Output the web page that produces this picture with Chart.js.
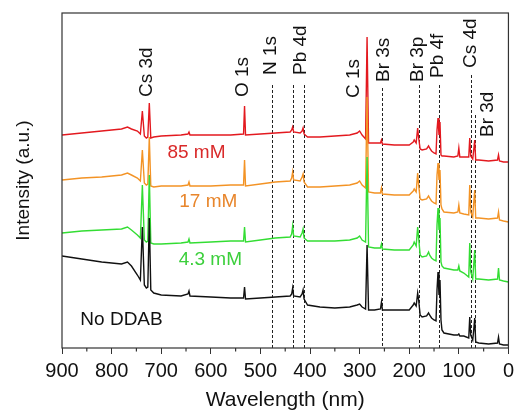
<!DOCTYPE html>
<html lang="en">
<head>
<meta charset="UTF-8">
<title>XPS survey spectra</title>
<script src="https://cdn.jsdelivr.net/npm/chart.js"></script>
<style>
  body { margin: 0; background: #fff; }
  .chart-container { width: 519px; height: 418px; position: relative; }
</style>
</head>
<body>
<div class="chart-container"><canvas id="chart"></canvas></div>
<script>
// shared x grid (900 -> 0)
const energy = [900, 860, 820, 780, 768, 760, 748, 742, 738, 734,
                730, 727, 724, 721, 715, 700, 660, 646, 644, 642,
                600, 560, 534, 532, 530, 500, 470, 440, 437, 435,
                433, 420, 416, 414, 412, 405, 380, 350, 320, 305,
                300, 295, 288, 285, 282, 270, 258, 256, 254, 230,
                200, 192, 190, 186, 183, 181, 178, 174, 165, 161,
                159, 155, 150, 146, 144, 142, 140, 138, 136, 134,
                130, 110, 102, 100, 98, 90, 80, 78, 76, 72,
                70, 68, 66, 60, 40, 22, 20, 18, 10, 0];

const noDDAB = [94, 91, 88, 86, 88, 84, 75, 70, 123, 65,
                62, 63, 132, 60, 57, 55, 54, 56, 59, 54,
                53, 52, 52, 63, 51, 52, 53, 54, 56, 62,
                54, 53, 56, 60, 51, 45, 43, 42, 43, 45,
                46, 43, 41, 105, 40, 40, 41, 48, 40, 40,
                40, 45, 47, 44, 57, 50, 35, 33, 34, 37,
                35, 32, 30, 29, 60, 78, 55, 70, 30, 20,
                17, 15, 15, 16, 14, 14, 12, 33, 15, 10,
                20, 32, 8, 7, 6, 7, 13, 6, 5, 5];

const mM4_3 = [117, 119, 120, 121, 123, 120, 115, 112, 165, 110,
               108, 109, 175, 107, 106, 106, 107, 108, 111, 107,
               108, 109, 109, 123, 108, 110, 112, 113, 116, 124,
               114, 113, 117, 121, 112, 109, 109, 109, 110, 112,
               114, 110, 108, 193, 103, 102, 102, 106, 101, 100,
               100, 105, 108, 104, 123, 112, 95, 93, 94, 98,
               95, 92, 90, 89, 125, 142, 120, 132, 88, 84,
               82, 80, 80, 84, 79, 77, 73, 107, 78, 71,
               85, 100, 71, 71, 70, 71, 82, 70, 69, 68];

const mM17 = [170, 172, 173, 175, 177, 175, 172, 169, 200, 167,
              165, 166, 213, 164, 163, 164, 164, 165, 168, 164,
              164, 165, 165, 190, 164, 166, 168, 169, 172, 178,
              170, 169, 173, 176, 168, 163, 163, 164, 165, 167,
              169, 165, 162, 253, 158, 157, 157, 162, 156, 155,
              155, 159, 161, 158, 177, 165, 151, 150, 151, 154,
              152, 149, 147, 146, 175, 187, 170, 180, 145, 141,
              138, 137, 138, 145, 137, 136, 135, 165, 138, 133,
              147, 160, 132, 132, 131, 132, 138, 130, 129, 128];

const mM85 = [215, 217, 219, 221, 223, 221, 219, 216, 239, 214,
              212, 213, 247, 212, 213, 214, 215, 216, 218, 215,
              215, 215, 216, 244, 215, 216, 217, 218, 220, 223,
              218, 217, 219, 222, 216, 213, 213, 214, 215, 217,
              219, 215, 211, 313, 207, 207, 207, 210, 206, 205,
              205, 208, 210, 207, 222, 212, 201, 200, 201, 204,
              202, 199, 197, 196, 220, 232, 215, 228, 195, 194,
              194, 193, 194, 202, 193, 193, 193, 212, 194, 191,
              200, 210, 190, 190, 189, 190, 195, 189, 188, 188];

const seriesNames = ['No DDAB', '4.3 mM', '17 mM', '85 mM'];
const seriesLabelX = [780, 601, 605, 629];
const seriesLabelY = [30, 90, 148, 197];

// dashed reference lines
const markerEnergy = [477, 435, 413, 255, 180, 140, 75, 67];
const markerTop = [265, 265, 265, 262, 265, 265, 275, 235];

// peak names (rotated text), x position and bottom of the text
const peakNames = ['Cs 3d', 'O 1s', 'N 1s', 'Pb 4d', 'C 1s', 'Br 3s', 'Br 3p', 'Pb 4f', 'Cs 4d', 'Br 3d'];
const peakLabelX = [730, 535, 479, 419, 311, 251, 182, 142, 76, 42];
const peakLabelBase = [253, 253, 275, 275, 252, 268, 268, 272, 282, 213];

const xTicks = [900, 800, 700, 600, 500, 400, 300, 200, 100, 0];

const colors = ['#111111', '#33dd33', '#f39325', '#e3191f'];
const textColors = ['#111111', '#3ccf3c', '#e8862c', '#d92a2a'];
const FONT = '"Liberation Sans", Arial, sans-serif';

const extras = {
    id: 'extras',
    beforeDatasetsDraw(chart) {
        const {ctx, chartArea, scales: {x, y}} = chart;
        ctx.save();
        ctx.strokeStyle = '#222';
        ctx.lineWidth = 1;
        ctx.setLineDash([3, 2]);
        markerEnergy.forEach((e, i) => {
            const px = Math.round(x.getPixelForValue(e)) + 0.5;
            ctx.beginPath();
            ctx.moveTo(px, y.getPixelForValue(markerTop[i]));
            ctx.lineTo(px, chartArea.bottom);
            ctx.stroke();
        });
        ctx.restore();
    },
    afterDatasetsDraw(chart) {
        const {ctx, chartArea, scales: {x, y}} = chart;
        ctx.save();
        // frame
        ctx.strokeStyle = '#333';
        ctx.lineWidth = 1.2;
        ctx.strokeRect(chartArea.left, chartArea.top, chartArea.right - chartArea.left, chartArea.bottom - chartArea.top);
        // minor ticks
        ctx.beginPath();
        for (let v = 50; v < 900; v += 100) {
            const px = x.getPixelForValue(v);
            ctx.moveTo(px, chartArea.bottom);
            ctx.lineTo(px, chartArea.bottom + 3.5);
        }
        ctx.stroke();
        // peak names
        ctx.fillStyle = '#111';
        ctx.font = '19px ' + FONT;
        ctx.textAlign = 'left';
        ctx.textBaseline = 'middle';
        peakNames.forEach((name, i) => {
            ctx.save();
            ctx.translate(x.getPixelForValue(peakLabelX[i]), y.getPixelForValue(peakLabelBase[i]));
            ctx.rotate(-Math.PI / 2);
            ctx.fillText(name, 0, 0);
            ctx.restore();
        });
        // series names
        ctx.textAlign = 'center';
        seriesNames.forEach((name, i) => {
            ctx.fillStyle = textColors[i];
            ctx.fillText(name, x.getPixelForValue(seriesLabelX[i]), y.getPixelForValue(seriesLabelY[i]));
        });
        ctx.restore();
    }
};

function toPoints(values) {
    return values.map((v, i) => ({ x: energy[i], y: v }));
}

new Chart(document.getElementById('chart'), {
    type: 'line',
    data: {
        datasets: [noDDAB, mM4_3, mM17, mM85].map((vals, i) => ({
            label: seriesNames[i],
            data: toPoints(vals),
            borderColor: colors[i],
            borderWidth: 1.4,
            pointRadius: 0,
            tension: 0,
            fill: false
        }))
    },
    options: {
        responsive: true,
        maintainAspectRatio: false,
        animation: false,
        layout: { padding: { left: 0, right: 6, top: 13, bottom: 0 } },
        plugins: {
            legend: { display: false },
            tooltip: { enabled: false }
        },
        scales: {
            x: {
                type: 'linear',
                reverse: true,
                min: 0,
                max: 900,
                afterFit(scale) { scale.height = 70; },
                afterBuildTicks(scale) { scale.ticks = xTicks.map(v => ({ value: v })); },
                ticks: {
                    color: '#111',
                    font: { family: FONT, size: 20 },
                    padding: 5,
                    maxRotation: 0,
                    autoSkip: false
                },
                grid: {
                    drawOnChartArea: false,
                    drawTicks: true,
                    tickLength: 6,
                    tickColor: '#333'
                },
                border: { display: false },
                title: {
                    display: true,
                    text: 'Wavelength (nm)',
                    color: '#111',
                    font: { family: FONT, size: 21 },
                    padding: { top: 0, bottom: 5 }
                }
            },
            y: {
                type: 'linear',
                min: 2,
                max: 337,
                afterFit(scale) { scale.width = 62; },
                ticks: { display: false },
                grid: { display: false },
                border: { display: false },
                title: {
                    display: true,
                    text: 'Intensity (a.u.)',
                    color: '#111',
                    font: { family: FONT, size: 19 },
                    padding: { top: 12, bottom: 0 }
                }
            }
        }
    },
    plugins: [extras]
});
</script>
</body>
</html>
